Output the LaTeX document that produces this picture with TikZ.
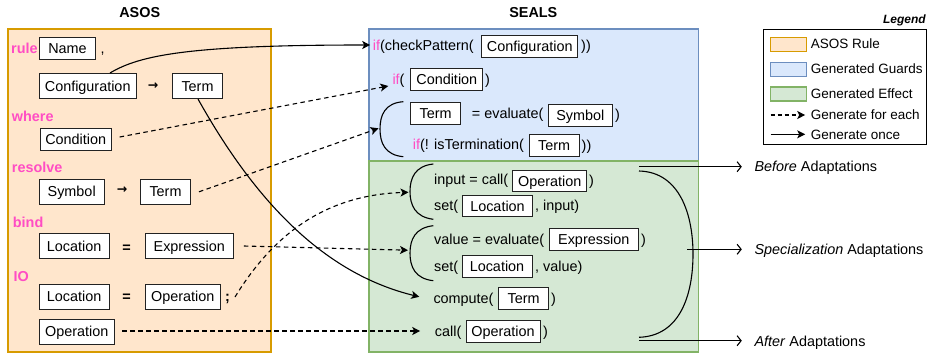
\documentclass[tikz,border=0pt]{standalone}
\usepackage{fontspec}
\setmainfont{Liberation Sans}
\newfontfamily\dejavu{DejaVu Sans}
\usetikzlibrary{arrows.meta,calc}
\definecolor{pk}{RGB}{255,77,196}
\definecolor{orfill}{HTML}{FFE6CC}\definecolor{ordraw}{HTML}{D79B00}
\definecolor{blfill}{HTML}{DAE8FC}\definecolor{bldraw}{HTML}{6C8EBF}
\definecolor{grfill}{HTML}{D5E8D4}\definecolor{grdraw}{HTML}{82B366}
\definecolor{bxline}{HTML}{222222}
\newcommand{\mainsize}{\fontsize{14.4}{17}\selectfont}
\newcommand{\pk}[1]{\textcolor{pk}{#1}}
\begin{document}
\begin{tikzpicture}[x=1pt,y=-1pt,
  txt/.style={inner sep=0pt, font=\mainsize, text height=10.3pt, text depth=0pt},
  kw/.style={txt, text=pk, font=\mainsize\bfseries, anchor=west},
  box/.style={txt, draw=bxline, fill=white, line width=1pt, minimum height=22pt},
  abox/.style={box, minimum height=25pt},
  arr/.style={inner sep=0pt, font=\dejavu\bfseries\fontsize{12.5}{14}\selectfont},
  eqs/.style={txt, font=\mainsize\bfseries},
  ttl/.style={txt, font=\mainsize\bfseries},
  ltxt/.style={inner sep=0pt, font=\fontsize{13.5}{16}\selectfont, text height=9.7pt, text depth=0pt, anchor=west},
  area/.style={line width=1.2pt},
  once/.style={line width=1.1pt, -{Stealth[length=8pt,width=8pt,inset=2pt]}},
  each/.style={once, dash pattern=on 4.5pt off 3.5pt},
  opena/.style={line width=1.1pt, -{Straight Barb[length=4pt,width=10pt]}},
  brk/.style={line width=1.1pt}
]
\useasboundingbox (0,0) rectangle (928,356);

% areas
\draw[area, draw=ordraw, fill=orfill] (8,29) rectangle (271,352);
\draw[area, draw=bldraw, fill=blfill] (369,29) rectangle (698.5,161);
\draw[area, draw=grdraw, fill=grfill] (369,161) rectangle (698.5,352);

% titles
\node[ttl] (tAsos) at (139.7,12.3) {ASOS};
\node[ttl] (tSeals) at (533.3,12.3) {SEALS};
\node[inner sep=0pt, font=\fontsize{12}{14}\selectfont\bfseries\itshape, anchor=east] (tLeg) at (926,20.7) {Legend};

% ASOS content
\node[kw] (kRule) at (11,48) {rule};
\node[box, minimum width=56pt] (name) at (67.5,48.3) {Name};
\node[txt, anchor=west] (comma) at (100.5,48) {,};
\node[abox, minimum width=97pt] (cfg) at (87.7,86) {Configuration};
\node[arr] (ar1) at (153,86) {→};
\node[abox, minimum width=50pt] (term1) at (197.5,86) {Term};
\node[kw] (kWhere) at (11.7,116) {where};
\node[box, minimum width=71pt] (cond) at (75.7,139) {Condition};
\node[kw] (kResolve) at (11.7,167.7) {resolve};
\node[abox, minimum width=65pt] (sym) at (71.7,191.8) {Symbol};
\node[arr] (ar2) at (122,190) {→};
\node[abox, minimum width=50pt] (term2) at (165.5,191.8) {Term};
\node[kw] (kBind) at (12.7,222.3) {bind};
\node[abox, minimum width=70pt] (loc1) at (74.2,246) {Location};
\node[eqs] (eq1) at (126.7,247.3) {=};
\node[abox, minimum width=88pt] (expr) at (189.3,246) {Expression};
\node[kw] (kIO) at (13.5,276.7) {IO};
\node[abox, minimum width=70pt] (loc2) at (74.2,296.8) {Location};
\node[eqs] (eq2) at (126.7,296.7) {=};
\node[abox, minimum width=75pt] (op1) at (182.7,296.8) {Operation};
\node[txt, font=\mainsize\bfseries] (semi) at (227.5,296) {;};
\node[abox, minimum width=75pt] (op2) at (76.7,331.5) {Operation};

% SEALS guards
\node[txt, anchor=west] (r1) at (372.7,45) {\pk{if}(checkPattern(};
\node[box, minimum width=96pt] (sCfg) at (529.7,46) {Configuration};
\node[txt, anchor=west] (r1b) at (581,45) {))};
\node[txt, anchor=west] (r2) at (392.3,79) {\pk{if}(};
\node[box, minimum width=72pt] (sCond) at (446.8,79) {Condition};
\node[txt, anchor=west] (r2b) at (485,79) {)};
\node[box, minimum width=50pt] (sTerm1) at (435.7,113.5) {Term};
\node[txt, anchor=west] (r3) at (471.7,113) {= evaluate(};
\node[box, minimum width=64pt] (sSym) at (580.3,115.5) {Symbol};
\node[txt, anchor=west] (r3b) at (615,114) {)};
\node[txt, anchor=west] (r4) at (412.7,144.3) {\pk{if}(! isTermination(};
\node[box, minimum width=50pt] (sTerm2) at (554.2,145.8) {Term};
\node[txt, anchor=west] (r4b) at (581.5,145) {))};

% SEALS effect
\node[txt, anchor=west] (r5) at (434,179.3) {input = call(};
\node[box, minimum width=74pt, minimum height=21pt] (sOp1) at (549.7,181) {Operation};
\node[txt, anchor=west] (r5b) at (589,180) {)};
\node[txt, anchor=west] (r6) at (434,205) {set(};
\node[box, minimum width=70pt, minimum height=21pt] (sLoc1) at (497.5,206) {Location};
\node[txt, anchor=west] (r6b) at (535,205) {, input)};
\node[txt, anchor=west] (r7) at (434,239) {value = evaluate(};
\node[box, minimum width=89pt] (sExpr) at (593.8,239.5) {Expression};
\node[txt, anchor=west] (r7b) at (641,239) {)};
\node[txt, anchor=west] (r8) at (434,266) {set(};
\node[box, minimum width=70pt] (sLoc2) at (497,266.7) {Location};
\node[txt, anchor=west] (r8b) at (535,266) {, value)};
\node[txt, anchor=west] (r9) at (433.3,298.3) {compute(};
\node[box, minimum width=50pt] (sTerm3) at (523.7,298.8) {Term};
\node[txt, anchor=west] (r9b) at (551,298.3) {)};
\node[txt, anchor=west] (r10) at (434.7,331.7) {call(};
\node[box, minimum width=74pt] (sOp2) at (503,331.8) {Operation};
\node[txt, anchor=west] (r10b) at (543,331.7) {)};

% brackets
\draw[brk] (403.3,101.7) .. controls (385,103) and (380,115) .. (380,129) .. controls (380,143) and (385,155) .. (403.3,156.7);
\coordinate (bb1) at (380,129);
\draw[brk] (433.3,164) .. controls (415,166) and (410,178) .. (410,191.5) .. controls (410,205) and (415,217) .. (433.3,219.3);
\coordinate (gb1) at (410,191.5);
\draw[brk] (433.3,225.7) .. controls (415,227.7) and (410,239.7) .. (410,253.2) .. controls (410,266.7) and (415,278.7) .. (433.3,280.7);
\coordinate (gb2) at (410,253.2);
\draw[brk] (639,171) .. controls (680,172) and (693,215) .. (693,254) .. controls (693,295) and (680,336) .. (639,337.3);

% adaptations
\node[txt, anchor=west] (before) at (754.3,166) {\textit{Before} Adaptations};
\node[txt, anchor=west] (spec) at (754.3,249.3) {\textit{Specialization} Adaptations};
\node[txt, anchor=west] (after) at (754.3,341) {\textit{After} Adaptations};
\coordinate (bTop) at (639,166.7);
\coordinate (bMid) at (687,249.3);
\coordinate (bBot) at (639,340.7);
\draw[opena] (bTop) -- ($(before.west)+(-12.5,0.7)$);
\draw[opena] (bMid) -- ($(spec.west)+(-12.5,0)$);
\draw[opena] (bBot) -- ($(after.west)+(-12.5,-0.3)$);

% connectors
\draw[once] ($(cfg.north)+(22.3,0)$) .. controls (140,55) and (190,45) .. ($(r1.west)+(-2.5,0)$);
\draw[each] ($(cond.east)+(8,-2)$) -- ($(r2.west)+(-4,7)$);
\draw[each] ($(term2.east)+(8,0)$) -- ($(bb1)+(-1.5,-0.7)$);
\draw[once] ($(term1.south)+(0.5,0)$) .. controls (260,210) and (330,275) .. ($(r9.west)+(-14,-1.5)$);
\draw[each] ($(semi)+(7.5,1)$) .. controls (270,240) and (320,195) .. ($(gb1)+(-1.5,0.8)$);
\draw[each] ($(expr.east)+(10,0)$) -- ($(gb2)+(-2,-3)$);
\draw[each] ($(op2.east)+(7.7,-0.5)$) -- ($(r10.west)+(-14.5,-0.7)$);

% legend
\node[draw=black, fill=white, line width=1pt, inner sep=0pt, minimum width=163pt, minimum height=115pt, anchor=north west] (leg) at (763,29) {};
\node[draw=ordraw, fill=orfill, line width=1.1pt, inner sep=0pt, minimum width=36pt, minimum height=14pt] (sw1) at (788.3,44.7) {};
\node[draw=bldraw, fill=blfill, line width=1.1pt, inner sep=0pt, minimum width=36pt, minimum height=14pt] (sw2) at (788.3,69.3) {};
\node[draw=grdraw, fill=grfill, line width=1.1pt, inner sep=0pt, minimum width=36pt, minimum height=14pt] (sw3) at (788.3,94) {};
\node[ltxt] (l1) at (810.7,44) {ASOS Rule};
\node[ltxt] (l2) at (810.7,69) {Generated Guards};
\node[ltxt] (l3) at (810.7,93.5) {Generated Effect};
\node[ltxt] (l4) at (810.7,115) {Generate for each};
\node[ltxt] (l5) at (810.7,134.3) {Generate once};
\draw[each, dash pattern=on 4pt off 3pt] ($(l4.west)+(-40,0)$) -- ($(l4.west)+(-5.5,0)$);
\draw[once] ($(l5.west)+(-40,0)$) -- ($(l5.west)+(-5.5,0)$);
\end{tikzpicture}
\end{document}
